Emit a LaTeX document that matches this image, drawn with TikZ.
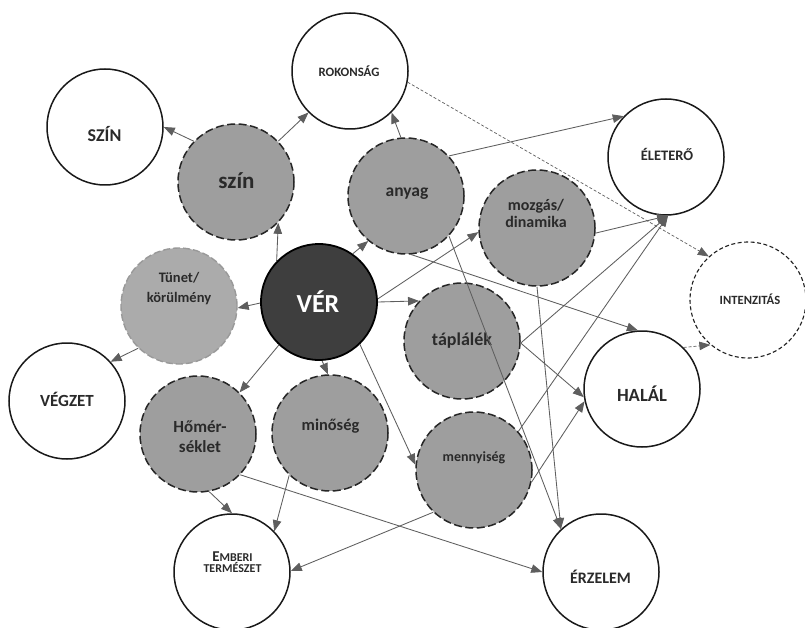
\documentclass[tikz,border=0pt]{standalone}
\usepackage{fontspec}
\setmainfont{Carlito}
\usetikzlibrary{arrows.meta}
\definecolor{grayfill}{HTML}{9E9E9E}
\definecolor{lightfill}{HTML}{ABABAB}
\definecolor{darkfill}{HTML}{3E3E3E}
\definecolor{linec}{HTML}{5E5E5E}
\definecolor{textc}{HTML}{2A2A2A}
\newcommand\fsz[2]{\fontsize{#1}{#2}\selectfont}
\begin{document}
\begin{tikzpicture}[x=1pt,y=-1pt,
  base/.style={circle, minimum size=116pt, inner sep=0pt},
  wc/.style={base, draw=black!90, line width=1.5pt, fill=white},
  gc/.style={base, draw=black!85, line width=1.5pt, dash pattern=on 8pt off 3.5pt, fill=grayfill},
  lc/.style={base, draw=black!40, line width=1.4pt, dash pattern=on 7pt off 3pt, fill=lightfill},
  dc/.style={base, draw=black, line width=1.8pt, fill=darkfill},
  ic/.style={base, draw=black!88, line width=1.1pt, dash pattern=on 4pt off 2.5pt, fill=white},
  txt/.style={inner sep=0pt, align=center, text=textc},
  arr/.style={draw=linec, line width=0.85pt, -{Triangle[length=11pt,width=8.5pt]}},
  darr/.style={arr, line width=0.7pt, dash pattern=on 3pt off 2pt}]
\useasboundingbox (0,0) rectangle (805,628);
\fill[white] (0,0) rectangle (805,628);
% circles
\node[wc] (rok) at (350,71) {};
\node[wc] (SZIN) at (105,127) {};
\node[gc] (szin) at (236,182) {};
\node[gc] (anyag) at (406,196) {};
\node[gc] (mozg) at (537,228) {};
\node[wc] (elet) at (666,157) {};
\node[ic] (inten) at (748,300) {};
\node[dc] (ver) at (319,302) {};
\node[lc] (tunet) at (179,306) {};
\node[wc] (vegzet) at (67,401) {};
\node[gc] (tapl) at (462,341) {};
\node[wc] (halal) at (642,389) {};
\node[gc] (homer) at (198,434) {};
\node[gc] (minoseg) at (330,433) {};
\node[gc] (menny) at (474,470) {};
\node[wc] (ember) at (232,572) {};
\node[wc] (erz) at (601,572) {};
% texts
\node[txt, font=\bfseries\fsz{12.8}{14}] (rok-t) at (349,71) {ROKONSÁG};
\node[txt, font=\bfseries\fsz{18}{20}] (SZIN-t) at (104.5,134) {SZÍN};
\node[txt, font=\bfseries\fsz{23}{25}] (szin-t) at (236.5,181) {szín};
\node[txt, font=\bfseries\fsz{14.5}{16}] (elet-t) at (667,154) {ÉLETERŐ};
\node[txt, font=\bfseries\fsz{17.5}{19}] (anyag-t) at (407,194) {anyag};
\node[txt, font=\bfseries\fsz{16}{17}] (mozg-t) at (536,213) {mozgás/\\dinamika};
\node[txt, font=\bfseries\fsz{14.5}{20}] (tunet-t) at (179,289) {Tünet/\\körülmény};
\node[txt, font=\bfseries\fsz{26}{28}, text=white] (ver-t) at (318,302) {VÉR};
\node[txt, font=\bfseries\fsz{17}{19}] (vegzet-t) at (67,399) {VÉGZET};
\node[txt, font=\bfseries\fsz{18}{20}] (tapl-t) at (462,341) {táplálék};
\node[txt, font=\bfseries\fsz{18.6}{20}] (halal-t) at (642,394) {HALÁL};
\node[txt, font=\bfseries\fsz{12.6}{14}] (inten-t) at (750,299) {INTENZITÁS};
\node[txt, font=\bfseries\fsz{17}{20}] (homer-t) at (200,437) {Hőmér-\\séklet};
\node[txt, font=\bfseries\fsz{16.4}{18}] (minoseg-t) at (330.5,426) {minőség};
\node[txt, font=\bfseries\fsz{14}{16}] (menny-t) at (474,458) {mennyiség};
\node[txt, font=\bfseries\fsz{12}{11.5}] (ember-t) at (232.5,562) {{\fsz{15}{15}E}MBERI\\TERMÉSZET};
\node[txt, font=\bfseries\fsz{16}{18}] (erz-t) at (600.5,577) {ÉRZELEM};
% connectors
\draw[arr] (szin.136) -- (SZIN.0);
\draw[arr] (szin.44) -- (rok.-135);
\draw[arr] (anyag.95) -- (rok.-45);
\draw[darr] (rok.-11) -- (inten.132);
\draw[arr] (anyag.43) -- (elet.136);
\draw[arr] (ver.136) -- (szin.-44);
\draw[arr] (ver.55) -- (anyag.-130);
\draw[arr] (ver.181) -- (tunet.-2);
\draw[arr] (tunet.-134) -- (vegzet.42);
\draw[arr] (ver.-133) -- (homer.45);
\draw[arr] (ver.-87) -- (minoseg.92);
\draw[arr] (ver.-46) -- (menny.175);
\draw[arr] (ver.0) -- (tapl.137);
\draw[arr] (ver.3) -- (mozg.184);
\draw[arr] (mozg.-5) -- (elet.-88);
\draw[arr] (tapl.-2) -- (elet.-88);
\draw[arr] (menny.41) -- (elet.-88);
\draw[arr] (menny.-12) -- (halal.192);
\draw[arr] (tapl.-2) -- (halal.188);
\draw[arr] (anyag.-85) -- (halal.94);
\draw[arr] (anyag.-43) -- (erz.133);
\draw[arr] (mozg.-90) -- (erz.133);
\draw[arr] (homer.-44) -- (erz.180);
\draw[arr] (homer.-79) -- (ember.90);
\draw[arr] (minoseg.-134) -- (ember.44);
\draw[arr] (menny.-134) -- (ember.1);
\draw[darr] (halal.45) -- (inten.-130);
\end{tikzpicture}
\end{document}
